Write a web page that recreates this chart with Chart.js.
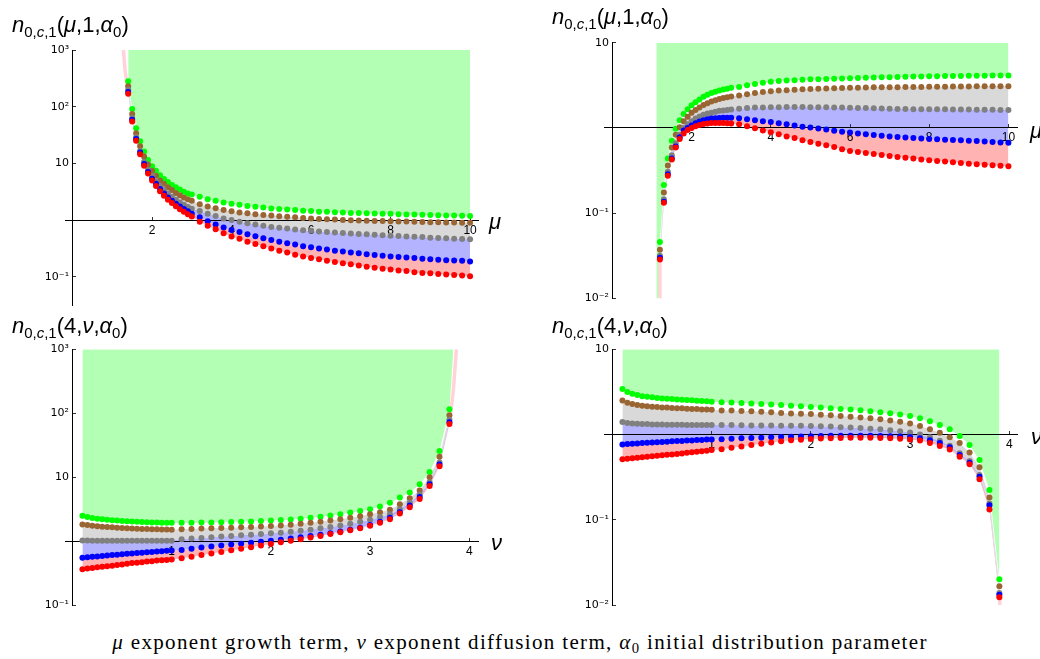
<!DOCTYPE html>
<html><head><meta charset="utf-8">
<script src="https://cdn.jsdelivr.net/npm/chart.js@4.4.1/dist/chart.umd.min.js"></script>
<style>
html,body{margin:0;padding:0;background:#fff;}
body{width:1040px;height:659px;position:relative;overflow:hidden;font-family:"Liberation Sans",Arial,sans-serif;}
canvas{position:absolute;}
.t{position:absolute;font-size:22px;line-height:22px;white-space:nowrap;color:#000;}
.t sub{font-size:0.68em;vertical-align:-0.32em;line-height:0;}
.ax{position:absolute;font-size:22px;line-height:20px;font-style:italic;color:#000;}
#cap{position:absolute;left:0;width:1040px;text-align:center;font-family:"Liberation Serif","Times New Roman",serif;font-size:21px;letter-spacing:1.35px;line-height:20px;top:632px;white-space:nowrap;}
#cap sub{font-size:0.7em;vertical-align:-0.3em;line-height:0;}
</style></head><body>
<canvas id="c1" width="520" height="320" style="left:0;top:0"></canvas>
<canvas id="c2" width="520" height="320" style="left:520px;top:0"></canvas>
<canvas id="c3" width="520" height="300" style="left:0;top:320px"></canvas>
<canvas id="c4" width="520" height="300" style="left:520px;top:320px"></canvas>
<div class="t" style="left:12px;top:14px"><i>n</i><sub>0,<i>c</i>,1</sub>(<i>μ</i>,1,<i>α</i><sub>0</sub>)</div>
<div class="t" style="left:552px;top:6px"><i>n</i><sub>0,<i>c</i>,1</sub>(<i>μ</i>,1,<i>α</i><sub>0</sub>)</div>
<div class="t" style="left:12px;top:315px"><i>n</i><sub>0,<i>c</i>,1</sub>(4,<i>ν</i>,<i>α</i><sub>0</sub>)</div>
<div class="t" style="left:552px;top:315px"><i>n</i><sub>0,<i>c</i>,1</sub>(4,<i>ν</i>,<i>α</i><sub>0</sub>)</div>
<div class="ax" style="left:489px;top:212px">μ</div>
<div class="ax" style="left:1030px;top:121px">μ</div>
<div class="ax" style="left:491px;top:533px">ν</div>
<div class="ax" style="left:1031px;top:427px">ν</div>
<div id="cap"><i>μ</i> exponent growth term, <i>ν</i> exponent diffusion term, <i>α</i><sub>0</sub> initial distribution parameter</div>
<script>
// ---------- Panel 1: n(mu,1,alpha0) ----------
const p1X = [1.4,1.5,1.6,1.7,1.8,1.9,2.0,2.1,2.2,2.3,2.4,2.5,2.6,2.7,2.8,2.9,3.0,3.2,3.4,3.6,3.8,4.0,4.2,4.4,4.6,4.8,5.0,5.2,5.4,5.6,5.8,6.0,6.2,6.4,6.6,6.8,7.0,7.2,7.4,7.6,7.8,8.0,8.2,8.4,8.6,8.8,9.0,9.2,9.4,9.6,9.8,10.0];
const p1Green = [282,91.2,41.7,24.5,16.2,11.5,8.91,7.41,6.17,5.31,4.68,4.17,3.80,3.47,3.16,2.95,2.82,2.57,2.34,2.19,2.04,1.95,1.86,1.78,1.72,1.66,1.60,1.57,1.53,1.50,1.46,1.44,1.41,1.40,1.38,1.36,1.34,1.33,1.32,1.31,1.30,1.29,1.27,1.26,1.25,1.24,1.23,1.22,1.21,1.20,1.19,1.175];
const p1Brown = [229,74.1,33.9,20.0,13.2,9.55,7.41,6.03,5.01,4.37,3.80,3.39,3.02,2.75,2.51,2.34,2.19,1.91,1.74,1.62,1.51,1.43,1.36,1.32,1.27,1.23,1.20,1.17,1.14,1.12,1.09,1.07,1.05,1.035,1.02,1.005,0.993,0.982,0.973,0.966,0.959,0.953,0.946,0.940,0.933,0.927,0.920,0.914,0.910,0.906,0.902,0.898];
const p1Gray = [200,63.1,28.8,16.6,10.7,7.76,6.03,4.79,3.98,3.39,2.95,2.57,2.29,2.04,1.86,1.70,1.585,1.445,1.29,1.175,1.07,1.0,0.933,0.881,0.832,0.794,0.759,0.733,0.708,0.684,0.661,0.646,0.631,0.617,0.603,0.592,0.582,0.571,0.562,0.552,0.542,0.531,0.525,0.516,0.508,0.501,0.490,0.484,0.479,0.470,0.463,0.457];
const p1Blue = [182,58.9,26.9,15.5,9.77,7.08,5.37,4.37,3.55,2.95,2.51,2.19,1.95,1.74,1.57,1.43,1.30,1.12,0.955,0.832,0.741,0.668,0.617,0.562,0.519,0.479,0.447,0.417,0.389,0.372,0.347,0.331,0.316,0.302,0.288,0.279,0.269,0.260,0.251,0.243,0.234,0.229,0.224,0.219,0.214,0.209,0.204,0.2,0.195,0.193,0.191,0.186];
const p1Red = [170,55.0,25.1,14.5,9.12,6.61,5.01,3.98,3.24,2.69,2.29,2.0,1.76,1.55,1.40,1.27,1.16,0.933,0.794,0.692,0.589,0.513,0.468,0.417,0.380,0.347,0.316,0.288,0.269,0.245,0.229,0.214,0.204,0.191,0.182,0.174,0.166,0.158,0.151,0.145,0.138,0.135,0.129,0.126,0.120,0.117,0.115,0.112,0.110,0.107,0.105,0.102];
const p1EdgeX = [];
const p1EdgeY = [];
const p1TailX = [1.28,1.32,1.4];
const p1TailY = [1000,445,170];
const p1XTicks = [2,4,6,8,10];
const p1YTicks = [0.1,10,100,1000];
const p1YLabels = ['10⁻¹','10','10²','10³'];

// ---------- Panel 2: n(mu,1,alpha0) ----------
const p2X = [1.2,1.3,1.4,1.5,1.6,1.7,1.8,1.9,2.0,2.1,2.2,2.3,2.4,2.5,2.6,2.7,2.8,2.9,3.0,3.2,3.4,3.6,3.8,4.0,4.2,4.4,4.6,4.8,5.0,5.2,5.4,5.6,5.8,6.0,6.2,6.4,6.6,6.8,7.0,7.2,7.4,7.6,7.8,8.0,8.2,8.4,8.6,8.8,9.0,9.2,9.4,9.6,9.8,10.0];
const p2Green = [0.0457,0.214,0.437,0.708,0.977,1.23,1.46,1.66,1.84,2.0,2.16,2.32,2.45,2.57,2.66,2.75,2.82,2.88,2.95,3.02,3.16,3.27,3.39,3.47,3.55,3.59,3.63,3.67,3.72,3.73,3.76,3.78,3.80,3.83,3.85,3.88,3.91,3.93,3.94,3.96,3.98,4.0,4.02,4.04,4.05,4.06,4.06,4.07,4.08,4.09,4.10,4.11,4.12,4.13];
const p2Brown = [0.0372,0.174,0.363,0.589,0.832,1.02,1.20,1.35,1.51,1.62,1.74,1.86,1.95,2.04,2.11,2.19,2.24,2.29,2.34,2.40,2.48,2.57,2.63,2.69,2.74,2.77,2.81,2.84,2.86,2.88,2.90,2.92,2.94,2.95,2.96,2.98,2.99,3.0,3.01,3.01,3.02,3.03,3.03,3.04,3.05,3.05,3.06,3.07,3.07,3.08,3.08,3.08,3.08,3.09];
const p2Gray = [0.0315,0.145,0.305,0.479,0.661,0.832,1.0,1.10,1.20,1.29,1.36,1.43,1.48,1.51,1.55,1.585,1.60,1.62,1.64,1.68,1.71,1.73,1.74,1.75,1.75,1.76,1.76,1.76,1.75,1.75,1.75,1.74,1.73,1.72,1.71,1.71,1.70,1.69,1.68,1.67,1.67,1.66,1.66,1.66,1.65,1.65,1.64,1.64,1.64,1.63,1.63,1.63,1.62,1.62];
const p2Blue = [0.030,0.136,0.285,0.437,0.603,0.776,0.933,1.0,1.07,1.135,1.19,1.23,1.26,1.29,1.30,1.31,1.32,1.32,1.32,1.30,1.26,1.23,1.20,1.175,1.135,1.10,1.07,1.035,1.01,0.982,0.955,0.929,0.904,0.881,0.861,0.843,0.826,0.809,0.794,0.783,0.773,0.762,0.752,0.741,0.735,0.728,0.721,0.715,0.708,0.700,0.692,0.684,0.676,0.668];
const p2Red = [0.0286,0.132,0.275,0.427,0.589,0.741,0.861,0.944,1.0,1.047,1.08,1.11,1.13,1.14,1.14,1.14,1.14,1.135,1.13,1.10,1.047,0.989,0.933,0.891,0.841,0.794,0.759,0.716,0.684,0.653,0.624,0.596,0.562,0.537,0.521,0.507,0.493,0.481,0.468,0.457,0.447,0.437,0.427,0.417,0.409,0.402,0.394,0.387,0.380,0.375,0.370,0.365,0.360,0.355];
const p2EdgeX = [1.11,1.19];
const p2EdgeY = [0.01,0.01];
const p2TailX = [1.19,1.2];
const p2TailY = [0.0095,0.0286];
const p2XTicks = [2,4,6,8,10];
const p2YTicks = [0.01,0.1,10];
const p2YLabels = ['10⁻²','10⁻¹','10'];

// ---------- Panel 3: n(4,nu,alpha0) ----------
const p3X = [0.1,0.15,0.2,0.25,0.3,0.35,0.4,0.45,0.5,0.55,0.6,0.65,0.7,0.75,0.8,0.85,0.9,0.95,1.0,1.1,1.2,1.3,1.4,1.5,1.6,1.7,1.8,1.9,2.0,2.1,2.2,2.3,2.4,2.5,2.6,2.7,2.8,2.9,3.0,3.1,3.2,3.3,3.4,3.5,3.6,3.7,3.8];
const p3Green = [2.48,2.37,2.29,2.24,2.19,2.15,2.12,2.09,2.07,2.04,2.02,2.0,1.99,1.97,1.96,1.95,1.94,1.94,1.93,1.93,1.94,1.95,1.95,1.97,1.99,2.0,2.03,2.06,2.09,2.13,2.17,2.24,2.32,2.40,2.51,2.63,2.79,2.95,3.16,3.47,3.98,4.79,5.75,7.76,12.0,25.7,115];
const p3Brown = [1.82,1.78,1.74,1.71,1.68,1.66,1.64,1.62,1.60,1.585,1.57,1.56,1.55,1.54,1.53,1.53,1.52,1.52,1.51,1.53,1.55,1.57,1.585,1.60,1.62,1.64,1.66,1.69,1.72,1.76,1.80,1.86,1.93,2.0,2.09,2.19,2.32,2.45,2.63,2.82,3.09,3.76,4.68,6.17,10.0,20.9,93.3];
const p3Gray = [1.02,1.02,1.01,1.01,1.01,1.01,1.01,1.01,1.01,1.01,1.01,1.01,1.01,1.01,1.01,1.01,1.01,1.01,1.01,1.07,1.10,1.12,1.15,1.175,1.20,1.23,1.26,1.29,1.32,1.35,1.40,1.445,1.51,1.585,1.66,1.76,1.86,2.0,2.16,2.37,2.63,3.16,3.98,5.37,8.32,17.0,79.4];
const p3Blue = [0.550,0.558,0.568,0.575,0.585,0.594,0.603,0.612,0.622,0.631,0.640,0.649,0.658,0.667,0.676,0.685,0.695,0.705,0.715,0.724,0.759,0.794,0.822,0.851,0.881,0.912,0.944,0.977,1.01,1.047,1.096,1.148,1.20,1.26,1.33,1.41,1.51,1.62,1.78,2.0,2.32,2.82,3.59,4.90,7.76,15.8,72.4];
const p3Red = [0.363,0.372,0.380,0.389,0.398,0.403,0.412,0.422,0.432,0.442,0.452,0.457,0.468,0.479,0.484,0.495,0.501,0.507,0.513,0.537,0.569,0.603,0.638,0.676,0.716,0.759,0.804,0.851,0.902,0.955,1.01,1.072,1.135,1.20,1.288,1.38,1.479,1.585,1.738,1.93,2.19,2.69,3.39,4.57,7.24,14.8,67.6];
const p3EdgeX = [3.84];
const p3EdgeY = [1000];
const p3TailX = [3.8,3.84,3.87];
const p3TailY = [67.6,230,1000];
const p3XTicks = [1,2,3,4];
const p3YTicks = [0.1,10,100,1000];
const p3YLabels = ['10⁻¹','10','10²','10³'];

// ---------- Panel 4: n(4,nu,alpha0) ----------
const p4X = [0.1,0.15,0.2,0.25,0.3,0.35,0.4,0.45,0.5,0.55,0.6,0.65,0.7,0.75,0.8,0.85,0.9,0.95,1.0,1.1,1.2,1.3,1.4,1.5,1.6,1.7,1.8,1.9,2.0,2.1,2.2,2.3,2.4,2.5,2.6,2.7,2.8,2.9,3.0,3.1,3.2,3.3,3.4,3.5,3.6,3.7,3.8,3.9];
const p4Green = [3.41,3.15,3.01,2.90,2.82,2.77,2.73,2.68,2.65,2.63,2.61,2.58,2.56,2.54,2.52,2.49,2.47,2.45,2.43,2.40,2.37,2.34,2.32,2.28,2.25,2.22,2.18,2.15,2.11,2.07,2.04,2.0,1.97,1.93,1.88,1.83,1.78,1.72,1.65,1.55,1.43,1.29,1.15,0.959,0.753,0.501,0.224,0.020];
const p4Brown = [2.51,2.36,2.28,2.22,2.18,2.14,2.12,2.10,2.08,2.07,2.05,2.03,2.03,2.01,1.99,1.99,1.97,1.97,1.95,1.92,1.91,1.89,1.87,1.85,1.82,1.79,1.77,1.75,1.74,1.71,1.68,1.65,1.62,1.585,1.55,1.51,1.46,1.41,1.35,1.26,1.15,1.047,0.927,0.794,0.617,0.412,0.182,0.0166];
const p4Gray = [1.40,1.365,1.35,1.34,1.33,1.33,1.315,1.315,1.315,1.30,1.30,1.30,1.30,1.29,1.29,1.29,1.29,1.29,1.29,1.29,1.29,1.285,1.28,1.28,1.28,1.27,1.27,1.265,1.26,1.25,1.24,1.22,1.21,1.19,1.17,1.15,1.12,1.09,1.06,1.0,0.927,0.845,0.741,0.603,0.490,0.335,0.155,0.0138];
const p4Blue = [0.766,0.773,0.780,0.787,0.794,0.802,0.805,0.813,0.820,0.824,0.832,0.838,0.841,0.849,0.853,0.861,0.865,0.873,0.877,0.881,0.891,0.902,0.910,0.918,0.927,0.935,0.944,0.951,0.957,0.962,0.966,0.968,0.968,0.968,0.966,0.962,0.955,0.946,0.933,0.902,0.855,0.794,0.708,0.575,0.468,0.320,0.148,0.0132];
const p4Red = [0.512,0.519,0.526,0.533,0.540,0.547,0.555,0.562,0.570,0.578,0.585,0.593,0.601,0.610,0.618,0.627,0.635,0.646,0.658,0.670,0.700,0.726,0.754,0.780,0.805,0.832,0.855,0.871,0.885,0.897,0.906,0.912,0.916,0.918,0.916,0.912,0.904,0.891,0.875,0.851,0.794,0.733,0.668,0.550,0.447,0.299,0.132,0.0123];
const p4EdgeX = [];
const p4EdgeY = [];
const p4TailX = [3.9,3.905];
const p4TailY = [0.0123,0.0095];
const p4XTicks = [1,2,3,4];
const p4YTicks = [0.01,0.1,10];
const p4YLabels = ['10⁻²','10⁻¹','10'];

// ---------- styling ----------
const ORDER = ['green','brown','gray','blue','red'];
const DOT = {green:'#00ff00', brown:'#996633', gray:'#808080', blue:'#0000ff', red:'#ff0000'};
const BAND = {green:'#b3ffb3', brown:'#e0d1c2', gray:'#d9d9d9', blue:'#b3b3ff', red:'#ffb3b3'};
const TAIL = '#ffd3d8';

function pts(xs, ys){ return xs.map((x,i)=>({x:x, y:ys[i]})); }

function makePanel(id, p){
  const ds = [];
  ORDER.forEach((k,i)=>{
    let data = pts(p.x, p.s[k]);
    if (k === 'green') data = data.concat(pts(p.edgeX, p.edgeY)).sort((a,b)=>a.x-b.x);
    ds.push({data:data, showLine:true, borderWidth:0, pointRadius:0, pointHoverRadius:0,
      backgroundColor:BAND[k], borderColor:BAND[k], fill: i===0 ? 'end' : '-1', order:20+i, tension:0});
  });
  ds.push({data:pts(p.tailX, p.tailY), showLine:true, borderColor:TAIL, borderWidth:3.5,
    pointRadius:0, fill:false, order:9, tension:0});
  ORDER.forEach((k,i)=>{
    ds.push({data:pts(p.x, p.s[k]), showLine:false, pointRadius:3, pointHoverRadius:3,
      pointBorderWidth:0, pointBackgroundColor:DOT[k], backgroundColor:DOT[k], borderColor:DOT[k],
      fill:false, order:5-i});
  });
  new Chart(document.getElementById(id), {
    type:'line',
    data:{datasets:ds},
    options:{
      responsive:false, animation:false, devicePixelRatio:1, events:[],
      layout:{padding:p.pad},
      plugins:{legend:{display:false}, tooltip:{enabled:false}, filler:{drawTime:'beforeDraw', propagate:false}},
      scales:{
        x:{type:'linear', min:p.xmin, max:p.xmax, bounds:'data', position:{y:1},
          afterFit:(s)=>{ s.height = 0; },
          afterBuildTicks:(s)=>{ s.ticks = p.xTicks.map(v=>({value:v})); },
          grid:{display:true, drawOnChartArea:false, tickLength:-4, color:'#000', tickColor:'#333', lineWidth:1},
          border:{display:true, color:'#000', width:1},
          ticks:{autoSkip:false, maxRotation:0, padding:7, color:'#000', font:{family:'Liberation Sans', size:12}}},
        y:{type:'logarithmic', min:p.ymin, max:p.ymax, bounds:'data', position:{x:0},
          afterFit:(s)=>{ s.width = 0; },
          afterBuildTicks:(s)=>{ s.ticks = p.yTicks.map(v=>({value:v})); },
          grid:{display:true, drawOnChartArea:false, tickLength:-4, color:'#000', tickColor:'#333', lineWidth:1},
          border:{display:true, color:'#000', width:1},
          ticks:{autoSkip:false, color:'#000', font:{family:'DejaVu Sans', size:11},
            callback:(v,i)=> p.yLabels[i] + ' '}}
      }
    }
  });
}

makePanel('c1', {x:p1X, s:{green:p1Green,brown:p1Brown,gray:p1Gray,blue:p1Blue,red:p1Red},
  edgeX:p1EdgeX, edgeY:p1EdgeY, tailX:p1TailX, tailY:p1TailY,
  xmin:-0.19, xmax:10.2, ymin:0.0318, ymax:1000, xTicks:p1XTicks, yTicks:p1YTicks, yLabels:p1YLabels,
  pad:{left:65, right:42, top:50, bottom:15}});
makePanel('c2', {x:p2X, s:{green:p2Green,brown:p2Brown,gray:p2Gray,blue:p2Blue,red:p2Red},
  edgeX:p2EdgeX, edgeY:p2EdgeY, tailX:p2TailX, tailY:p2TailY,
  xmin:-0.212, xmax:10.217, ymin:0.01, ymax:10, xTicks:p2XTicks, yTicks:p2YTicks, yLabels:p2YLabels,
  pad:{left:84, right:23, top:42.7, bottom:21.7}});
makePanel('c3', {x:p3X, s:{green:p3Green,brown:p3Brown,gray:p3Gray,blue:p3Blue,red:p3Red},
  edgeX:p3EdgeX, edgeY:p3EdgeY, tailX:p3TailX, tailY:p3TailY,
  xmin:-0.0756, xmax:4.088, ymin:0.1, ymax:1000, xTicks:p3XTicks, yTicks:p3YTicks, yLabels:p3YLabels,
  pad:{left:65, right:42, top:29.3, bottom:15}});
makePanel('c4', {x:p4X, s:{green:p4Green,brown:p4Brown,gray:p4Gray,blue:p4Blue,red:p4Red},
  edgeX:p4EdgeX, edgeY:p4EdgeY, tailX:p4TailX, tailY:p4TailY,
  xmin:-0.0857, xmax:4.078, ymin:0.01, ymax:10, xTicks:p4XTicks, yTicks:p4YTicks, yLabels:p4YLabels,
  pad:{left:84, right:23, top:29.3, bottom:15}});
</script>
</body></html>
